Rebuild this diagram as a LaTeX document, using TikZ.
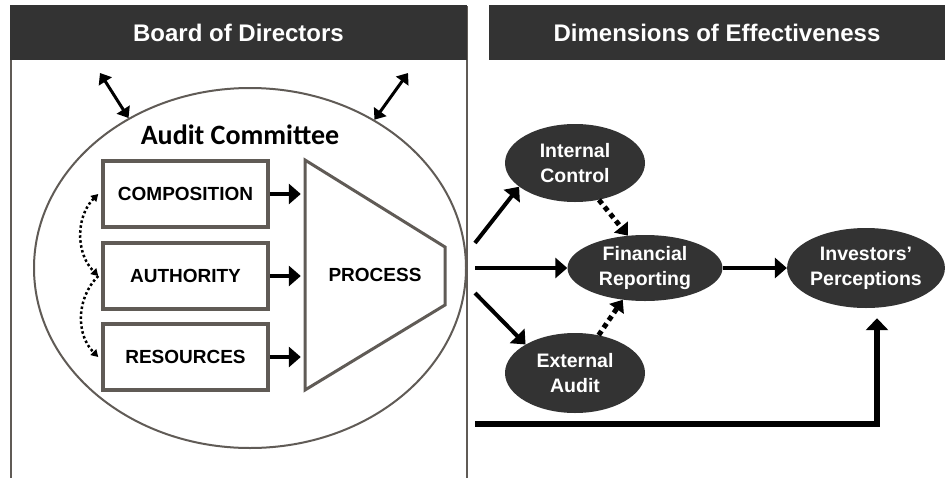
\documentclass[tikz,border=0pt]{standalone}
\usepackage{fontspec}
\setmainfont{Liberation Sans}
\newfontfamily\calibrifont{Carlito}
\usepackage{tikz}
\usetikzlibrary{shapes.geometric, arrows.meta, positioning, calc}
\definecolor{headergray}{RGB}{51,51,51}
\definecolor{linegray}{RGB}{96,91,86}

\begin{document}
\begin{tikzpicture}[x=1pt,y=-1pt,
    headbar/.style={fill=headergray, text=white, inner sep=0pt, font=\bfseries\fontsize{24}{28}\selectfont},
    dimbox/.style={draw=linegray, line width=3.5pt, fill=white, minimum width=165pt, minimum height=66pt, inner sep=0pt, font=\bfseries\fontsize{19}{22}\selectfont},
    dimoval/.style={ellipse, fill=headergray, text=white, inner sep=0pt, align=center, font=\bfseries\fontsize{19.5}{25}\selectfont},
    solidarrow/.style={line width=4pt, -{Triangle[length=12pt,width=20pt]}},
    dotarrow/.style={line width=5pt, dash pattern=on 5pt off 4pt, -{Triangle[length=11pt,width=17pt]}}
]
    \useasboundingbox (0,0) rectangle (945,477);

    % Panels and headers
    \draw[linegray, line width=1.5pt] (11,485) -- (11,7) -- (467,7) -- (467,485);
    \node[headbar, minimum width=457pt, minimum height=55pt] (board) at (238.5,32.5) {Board of Directors};
    \node[headbar, minimum width=456pt, minimum height=55pt] (dims) at (717,32.5) {Dimensions of Effectiveness};

    % Audit committee
    \node[ellipse, draw=linegray, line width=2pt, minimum width=432pt, minimum height=360pt] (ac) at (250,268) {};
    \node[font=\calibrifont\bfseries\fontsize{28}{32}\selectfont] (actitle) at (240,135) {Audit Committee};
    \coordinate (bdl) at (100,73);
    \coordinate (bdr) at (408,73);
    \draw[line width=3pt, {Triangle[length=10pt,width=15pt]}-{Triangle[length=10pt,width=15pt]}] (bdl) -- (ac.129);
    \draw[line width=3pt, {Triangle[length=10pt,width=15pt]}-{Triangle[length=10pt,width=15pt]}] (bdr) -- (ac.50);

    % Process
    \draw[linegray, line width=3pt, fill=white] (305,160) -- (445,247) -- (445,305) -- (305,390) -- cycle;
    \node[minimum width=140pt, minimum height=230pt, inner sep=0pt, font=\bfseries\fontsize{19}{22}\selectfont] (process) at (375,275) {PROCESS};

    % Attribute boxes
    \foreach \name/\label/\y in {comp/COMPOSITION/194, auth/AUTHORITY/276, res/RESOURCES/357} {
        \node[dimbox] (\name) at (185.5,\y) {\label};
        \draw[solidarrow, shorten >=4pt] (\name.east) -- (\name.east -| process.west);
    }
    \draw[line width=2.5pt, dash pattern=on 2.5pt off 2.5pt, {Triangle[length=7pt,width=8pt]}-{Triangle[length=7pt,width=8pt]}] ([xshift=-3pt]comp.west) to[out=225,in=135] ([xshift=-3pt]auth.west);
    \draw[line width=2.5pt, dash pattern=on 2.5pt off 2.5pt, -{Triangle[length=7pt,width=8pt]}] ([xshift=-3pt]auth.west) to[out=225,in=135] ([xshift=-3pt]res.west);

    % Dimensions
    \node[dimoval, minimum width=140pt, minimum height=78pt] (ic) at (575,163) {Internal\\Control};
    \node[dimoval, minimum width=155pt, minimum height=66pt] (fr) at (645,268) {Financial\\Reporting};
    \node[dimoval, minimum width=156pt, minimum height=80pt] (ip) at (866,268) {Investors’\\Perceptions};
    \node[dimoval, minimum width=140pt, minimum height=80pt] (ea) at (575,373) {External\\Audit};

    % Links
    \coordinate (src1) at (475,243);
    \coordinate (src2) at (475,268);
    \coordinate (src3) at (475,293);
    \coordinate (src4) at (475,424);
    \draw[solidarrow] (src1) -- (ic.203);
    \draw[solidarrow] (src2) -- (fr.west);
    \draw[solidarrow] (src3) -- (ea.150);
    \draw[solidarrow] (fr.east) -- (ip.west);
    \draw[dotarrow] (ic.303) -- (fr.118);
    \draw[dotarrow] (ea.58) -- (fr.235);
    \draw[line width=6pt, -{Triangle[length=12pt,width=22pt]}] (src4) -| ([xshift=11pt,yshift=-10pt]ip.south);
\end{tikzpicture}
\end{document}
